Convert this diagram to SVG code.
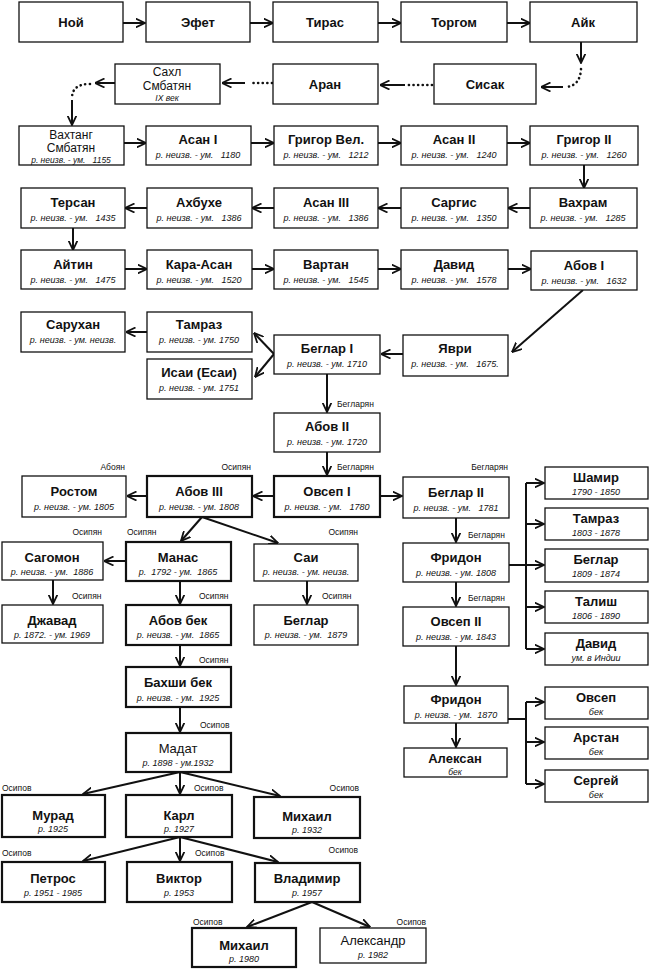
<svg xmlns="http://www.w3.org/2000/svg" width="653" height="972" viewBox="0 0 653 972">
<style>
.bx{fill:#fff;stroke:#111;stroke-width:1.3}
.tk{stroke-width:2.2}
text{font-family:"Liberation Sans",Arial,sans-serif;fill:#111}
.nm{font-size:13px;font-weight:bold;text-anchor:middle}
.nr{font-size:13px;text-anchor:middle}
.n2{font-size:12px;text-anchor:middle}
.sb{font-size:9px;font-style:italic;text-anchor:middle}
.s2{font-size:8.5px;font-style:italic;text-anchor:middle}
.lb{font-size:8.5px}
.le{font-size:8.5px;text-anchor:end}
.c{stroke:#111;stroke-width:2;fill:none;marker-end:url(#ah)}
.l{stroke:#111;stroke-width:2;fill:none}
.d{stroke:#111;stroke-width:2.6;fill:none;stroke-dasharray:0.1 4.5;stroke-linecap:round}
</style>
<defs>
<marker id="ah" viewBox="0 0 10 10" refX="9.5" refY="5" markerWidth="10" markerHeight="10" markerUnits="userSpaceOnUse" orient="auto"><path d="M0,0.5 L9.5,5 L0,9.5" fill="none" stroke="#111" stroke-width="1.8"/></marker>
</defs>
<rect width="653" height="972" fill="#fff"/>

<g id="connectors">
<path class="c" d="M123,23 H145"/>
<path class="c" d="M250,23 H273"/>
<path class="c" d="M378,23 H401"/>
<path class="c" d="M507,23 H530"/>
<path class="c" d="M581,42 V63"/>
<path class="d" d="M581,69 Q580,86 566,87"/>
<path class="c" d="M563,87 H541"/>
<path class="d" d="M432,85 H408"/>
<path class="c" d="M405,85 H380"/>
<path class="d" d="M272,83 H249"/>
<path class="c" d="M245,83 H222"/>
<path class="c" d="M115,83 H95"/>
<path class="d" d="M90,84 Q72,84 72,98"/>
<path class="c" d="M72,100 V125"/>
<path class="c" d="M124,143 H146"/>
<path class="c" d="M251,143 H274"/>
<path class="c" d="M378,143 H401"/>
<path class="c" d="M507,143 H530"/>
<path class="c" d="M584,165 V188"/>
<path class="c" d="M530,208 H508"/>
<path class="c" d="M401,208 H378"/>
<path class="c" d="M274,208 H252"/>
<path class="c" d="M147,208 H125"/>
<path class="c" d="M73,228 V250"/>
<path class="c" d="M125,269 H147"/>
<path class="c" d="M252,269 H274"/>
<path class="c" d="M378,269 H401"/>
<path class="c" d="M508,269 H531"/>
<path class="c" d="M583,290 L512,352"/>
<path class="c" d="M403,354 H381"/>
<path class="c" d="M274,354 L254,333"/>
<path class="c" d="M274,354 L255,377"/>
<path class="c" d="M147,332 H126"/>
<path class="c" d="M327,374 V412"/>
<path class="c" d="M327,452 V475"/>
<path class="c" d="M274,496 H253"/>
<path class="c" d="M147,496 H127"/>
<path class="c" d="M380,496 H402"/>
<path class="c" d="M202,517 L181,541"/>
<path class="c" d="M202,517 L278,543"/>
<path class="c" d="M126,561 H104"/>
<path class="c" d="M53,580 V604"/>
<path class="c" d="M180,581 V604"/>
<path class="c" d="M307,581 V604"/>
<path class="c" d="M180,645 V666"/>
<path class="c" d="M180,707 V732"/>
<path class="c" d="M180,772 L83,794"/>
<path class="c" d="M180,772 V794"/>
<path class="c" d="M180,772 L280,796"/>
<path class="c" d="M180,837 L83,861"/>
<path class="c" d="M180,837 V861"/>
<path class="c" d="M180,837 L278,862"/>
<path class="c" d="M312,902 L247,927"/>
<path class="c" d="M312,902 L370,927"/>
<path class="c" d="M456,518 V542"/>
<path class="c" d="M456,582 V606"/>
<path class="c" d="M456,646 V685"/>
<path class="c" d="M456,723 V747"/>
<path class="l" d="M509,565 H526 M526,483 V649"/>
<path class="c" d="M526,483 H544"/>
<path class="c" d="M526,524 H544"/>
<path class="c" d="M526,565 H544"/>
<path class="c" d="M526,607 H544"/>
<path class="c" d="M526,649 H544"/>
<path class="l" d="M508,719 H526 M526,702 V784"/>
<path class="c" d="M526,702 H544"/>
<path class="c" d="M526,742 H544"/>
<path class="c" d="M526,784 H544"/>
</g>

<g id="labels">
<text class="lb" x="337" y="407">Бегларян</text>
<text class="lb" x="337" y="470">Бегларян</text>
<text class="le" x="508" y="470">Бегларян</text>
<text class="lb" x="468" y="538">Бегларян</text>
<text class="lb" x="468" y="601">Бегларян</text>
<text class="le" x="125" y="470">Абоян</text>
<text class="le" x="251" y="470">Осипян</text>
<text class="le" x="102" y="535">Осипян</text>
<text class="lb" x="127" y="535">Осипян</text>
<text class="le" x="358" y="535">Осипян</text>
<text class="lb" x="72" y="599">Осипян</text>
<text class="lb" x="199" y="599">Осипян</text>
<text class="lb" x="322" y="599">Осипян</text>
<text class="lb" x="199" y="663">Осипян</text>
<text class="lb" x="200" y="728">Осипов</text>
<text class="lb" x="2" y="791">Осипов</text>
<text class="lb" x="194" y="791">Осипов</text>
<text class="le" x="359" y="791">Осипов</text>
<text class="lb" x="2" y="856">Осипов</text>
<text class="lb" x="195" y="856">Осипов</text>
<text class="le" x="358" y="853">Осипов</text>
<text class="lb" x="193" y="925">Осипов</text>
<text class="le" x="426" y="925">Осипов</text>
</g>

<g id="n-noy"><rect class="bx" x="19" y="2" width="104" height="40"/><text class="nm" x="71" y="27">Ной</text></g>
<g id="n-efet"><rect class="bx" x="146" y="2" width="104" height="40"/><text class="nm" x="198" y="27">Эфет</text></g>
<g id="n-tiras"><rect class="bx" x="273" y="2" width="105" height="40"/><text class="nm" x="325" y="27">Тирас</text></g>
<g id="n-torgom"><rect class="bx" x="401" y="2" width="106" height="40"/><text class="nm" x="454" y="27">Торгом</text></g>
<g id="n-ayk"><rect class="bx" x="530" y="2" width="107" height="40"/><text class="nm" x="583" y="27">Айк</text></g>

<g id="n-sahl"><rect class="bx" x="115" y="64" width="105" height="40"/><text class="n2" x="167" y="76">Сахл</text><text class="n2" x="167" y="89.5">Смбатян</text><text class="s2" x="167" y="100.5">IX век</text></g>
<g id="n-aran"><rect class="bx" x="273" y="64" width="105" height="40"/><text class="nm" x="325" y="89">Аран</text></g>
<g id="n-sisak"><rect class="bx" x="434" y="64" width="102" height="40"/><text class="nm" x="485" y="89">Сисак</text></g>

<g id="n-vakhtang"><rect class="bx" x="19" y="126" width="105" height="39"/><text class="n2" x="71" y="138.5">Вахтанг</text><text class="n2" x="71" y="152">Смбатян</text><text class="s2" x="71" y="162.5" xml:space="preserve">р. неизв. - ум.   1155</text></g>
<g id="n-asan1"><rect class="bx" x="146" y="126" width="105" height="39"/><text class="nm" x="198" y="144">Асан I</text><text class="sb" x="198" y="158" xml:space="preserve">р. неизв. - ум.   1180</text></g>
<g id="n-grigorvel"><rect class="bx" x="274" y="126" width="104" height="39"/><text class="nm" x="326" y="144">Григор Вел.</text><text class="sb" x="326" y="158" xml:space="preserve">р. неизв. - ум.   1212</text></g>
<g id="n-asan2"><rect class="bx" x="401" y="126" width="106" height="39"/><text class="nm" x="454" y="144">Асан II</text><text class="sb" x="454" y="158" xml:space="preserve">р. неизв. - ум.   1240</text></g>
<g id="n-grigor2"><rect class="bx" x="530" y="126" width="108" height="39"/><text class="nm" x="584" y="144">Григор II</text><text class="sb" x="584" y="158" xml:space="preserve">р. неизв. - ум.   1260</text></g>

<g id="n-tersan"><rect class="bx" x="21" y="188" width="104" height="40"/><text class="nm" x="73" y="207">Терсан</text><text class="sb" x="73" y="221" xml:space="preserve">р. неизв. - ум.   1435</text></g>
<g id="n-akhbukhe"><rect class="bx" x="147" y="188" width="105" height="40"/><text class="nm" x="199" y="207">Ахбухе</text><text class="sb" x="199" y="221" xml:space="preserve">р. неизв. - ум.   1386</text></g>
<g id="n-asan3"><rect class="bx" x="274" y="188" width="104" height="40"/><text class="nm" x="326" y="207">Асан III</text><text class="sb" x="326" y="221" xml:space="preserve">р. неизв. - ум.   1386</text></g>
<g id="n-sargis"><rect class="bx" x="401" y="188" width="107" height="40"/><text class="nm" x="454" y="207">Саргис</text><text class="sb" x="454" y="221" xml:space="preserve">р. неизв. - ум.   1350</text></g>
<g id="n-vakhram"><rect class="bx" x="530" y="188" width="107" height="40"/><text class="nm" x="583" y="207">Вахрам</text><text class="sb" x="583" y="221" xml:space="preserve">р. неизв. - ум.   1285</text></g>

<g id="n-aytin"><rect class="bx" x="21" y="250" width="104" height="39"/><text class="nm" x="73" y="269">Айтин</text><text class="sb" x="73" y="283" xml:space="preserve">р. неизв. - ум.   1475</text></g>
<g id="n-karaasan"><rect class="bx" x="147" y="250" width="105" height="39"/><text class="nm" x="199" y="269">Кара-Асан</text><text class="sb" x="199" y="283" xml:space="preserve">р. неизв. - ум.   1520</text></g>
<g id="n-vartan"><rect class="bx" x="274" y="250" width="104" height="39"/><text class="nm" x="326" y="269">Вартан</text><text class="sb" x="326" y="283" xml:space="preserve">р. неизв. - ум.   1545</text></g>
<g id="n-david"><rect class="bx" x="401" y="250" width="107" height="39"/><text class="nm" x="454" y="269">Давид</text><text class="sb" x="454" y="283" xml:space="preserve">р. неизв. - ум.   1578</text></g>
<g id="n-abov1"><rect class="bx" x="531" y="251" width="106" height="39"/><text class="nm" x="584" y="270">Абов I</text><text class="sb" x="584" y="284" xml:space="preserve">р. неизв. - ум.   1632</text></g>

<g id="n-sarukhan"><rect class="bx" x="21" y="312" width="104" height="40"/><text class="nm" x="73" y="329">Сарухан</text><text class="sb" x="73" y="343">р. неизв. - ум. неизв.</text></g>
<g id="n-tamraz"><rect class="bx" x="147" y="312" width="105" height="40"/><text class="nm" x="199" y="329">Тамраз</text><text class="sb" x="199" y="343">р. неизв. - ум. 1750</text></g>
<g id="n-isai"><rect class="bx" x="147" y="359" width="105" height="40"/><text class="nm" x="199" y="377">Исаи (Есаи)</text><text class="sb" x="199" y="391">р. неизв. - ум. 1751</text></g>
<g id="n-beglar1"><rect class="bx" x="274" y="335" width="106" height="39"/><text class="nm" x="327" y="353">Беглар I</text><text class="sb" x="327" y="367">р. неизв. - ум. 1710</text></g>
<g id="n-yavri"><rect class="bx" x="403" y="335" width="105" height="41"/><text class="nm" x="455" y="353">Яври</text><text class="sb" x="455" y="367" xml:space="preserve">р. неизв. - ум.   1675.</text></g>

<g id="n-abov2"><rect class="bx" x="274" y="413" width="106" height="39"/><text class="nm" x="327" y="431">Абов II</text><text class="sb" x="327" y="445">р. неизв. - ум. 1720</text></g>

<g id="n-rostom"><rect class="bx" x="22" y="476" width="104" height="41"/><text class="nm" x="74" y="496">Ростом</text><text class="sb" x="74" y="510">р. неизв. - ум. 1805</text></g>
<g id="n-abov3"><rect class="bx tk" x="147" y="476" width="105" height="41"/><text class="nm" x="199" y="496">Абов III</text><text class="sb" x="199" y="510">р. неизв. - ум. 1808</text></g>
<g id="n-ovsep1"><rect class="bx tk" x="274" y="476" width="106" height="41"/><text class="nm" x="327" y="496">Овсеп I</text><text class="sb" x="327" y="510" xml:space="preserve">р. неизв. - ум.   1780</text></g>
<g id="n-beglar2"><rect class="bx" x="403" y="477" width="106" height="41"/><text class="nm" x="456" y="497">Беглар II</text><text class="sb" x="456" y="511" xml:space="preserve">р. неизв. - ум.   1781</text></g>

<g id="n-shamir"><rect class="bx" x="545" y="467" width="103" height="32"/><text class="nm" x="596" y="482">Шамир</text><text class="sb" x="596" y="495">1790 - 1850</text></g>
<g id="n-tamraz2"><rect class="bx" x="545" y="508" width="103" height="32"/><text class="nm" x="596" y="523">Тамраз</text><text class="sb" x="596" y="536">1803 - 1878</text></g>
<g id="n-beglar3"><rect class="bx" x="545" y="549" width="103" height="33"/><text class="nm" x="596" y="564">Беглар</text><text class="sb" x="596" y="577">1809 - 1874</text></g>
<g id="n-talish"><rect class="bx" x="545" y="591" width="103" height="32"/><text class="nm" x="596" y="606">Талиш</text><text class="sb" x="596" y="619">1806 - 1890</text></g>
<g id="n-david2"><rect class="bx" x="545" y="633" width="103" height="32"/><text class="nm" x="596" y="648">Давид</text><text class="sb" x="596" y="661">ум. в Индии</text></g>

<g id="n-sagomon"><rect class="bx" x="2" y="542" width="101" height="38"/><text class="nm" x="52" y="562">Сагомон</text><text class="sb" x="52" y="575" xml:space="preserve">р. неизв. - ум.  1886</text></g>
<g id="n-manas"><rect class="bx tk" x="126" y="542" width="105" height="39"/><text class="nm" x="178" y="562">Манас</text><text class="sb" x="178" y="575" xml:space="preserve">р.  1792 - ум.  1865</text></g>
<g id="n-sai"><rect class="bx" x="254" y="544" width="104" height="37"/><text class="nm" x="306" y="562">Саи</text><text class="sb" x="306" y="575">р. неизв. - ум. неизв.</text></g>
<g id="n-fridon"><rect class="bx" x="403" y="543" width="106" height="39"/><text class="nm" x="456" y="562">Фридон</text><text class="sb" x="456" y="576">р. неизв. - ум. 1808</text></g>

<g id="n-dzhavad"><rect class="bx" x="2" y="605" width="101" height="38"/><text class="nm" x="52" y="625">Джавад</text><text class="sb" x="52" y="638">р. 1872. - ум. 1969</text></g>
<g id="n-abovbek"><rect class="bx tk" x="126" y="605" width="105" height="40"/><text class="nm" x="178" y="625">Абов бек</text><text class="sb" x="178" y="638" xml:space="preserve">р. неизв. - ум.  1865</text></g>
<g id="n-beglar4"><rect class="bx" x="254" y="605" width="104" height="40"/><text class="nm" x="306" y="625">Беглар</text><text class="sb" x="306" y="638" xml:space="preserve">р. неизв. - ум.  1879</text></g>
<g id="n-ovsep2"><rect class="bx" x="403" y="607" width="106" height="39"/><text class="nm" x="456" y="626">Овсеп II</text><text class="sb" x="456" y="640">р. неизв. - ум. 1843</text></g>

<g id="n-bakhshi"><rect class="bx tk" x="126" y="667" width="105" height="40"/><text class="nm" x="178" y="687">Бахши бек</text><text class="sb" x="178" y="701" xml:space="preserve">р. неизв. - ум.  1925</text></g>
<g id="n-fridon2"><rect class="bx" x="404" y="686" width="104" height="37"/><text class="nm" x="456" y="704">Фридон</text><text class="sb" x="456" y="718" xml:space="preserve">р. неизв. - ум.  1870</text></g>
<g id="n-ovsep3"><rect class="bx" x="545" y="687" width="103" height="32"/><text class="nm" x="596" y="702">Овсеп</text><text class="sb" x="596" y="715">бек</text></g>
<g id="n-arstan"><rect class="bx" x="545" y="727" width="103" height="32"/><text class="nm" x="596" y="742">Арстан</text><text class="sb" x="596" y="755">бек</text></g>
<g id="n-sergey"><rect class="bx" x="545" y="770" width="103" height="32"/><text class="nm" x="596" y="785">Сергей</text><text class="sb" x="596" y="798">бек</text></g>
<g id="n-madat"><rect class="bx tk" x="126" y="733" width="105" height="39"/><text class="nr" x="178" y="753">Мадат</text><text class="sb" x="178" y="766">р. 1898 - ум.1932</text></g>
<g id="n-aleksan"><rect class="bx" x="404" y="748" width="103" height="29"/><text class="nm" x="455" y="763">Алексан</text><text class="s2" x="455" y="774.5">бек</text></g>

<g id="n-murad"><rect class="bx tk" x="2" y="795" width="103" height="42"/><text class="nm" x="53" y="820">Мурад</text><text class="sb" x="53" y="832">р. 1925</text></g>
<g id="n-karl"><rect class="bx tk" x="126" y="795" width="106" height="42"/><text class="nm" x="179" y="820">Карл</text><text class="sb" x="179" y="832">р. 1927</text></g>
<g id="n-mikhail1"><rect class="bx tk" x="254" y="797" width="106" height="41"/><text class="nm" x="307" y="821">Михаил</text><text class="sb" x="307" y="833">р. 1932</text></g>

<g id="n-petros"><rect class="bx tk" x="2" y="862" width="103" height="40"/><text class="nm" x="53" y="883">Петрос</text><text class="sb" x="53" y="896">р. 1951 - 1985</text></g>
<g id="n-viktor"><rect class="bx tk" x="127" y="862" width="105" height="40"/><text class="nm" x="179" y="883">Виктор</text><text class="sb" x="179" y="896">р. 1953</text></g>
<g id="n-vladimir"><rect class="bx tk" x="255" y="863" width="105" height="39"/><text class="nm" x="307" y="883">Владимир</text><text class="sb" x="307" y="896">р. 1957</text></g>

<g id="n-mikhail2"><rect class="bx tk" x="192" y="928" width="104" height="39"/><text class="nm" x="244" y="950">Михаил</text><text class="sb" x="244" y="962">р. 1980</text></g>
<g id="n-aleksandr"><rect class="bx" x="320" y="928" width="106" height="35"/><text class="nr" x="373" y="945">Александр</text><text class="sb" x="373" y="958">р. 1982</text></g>
</svg>
